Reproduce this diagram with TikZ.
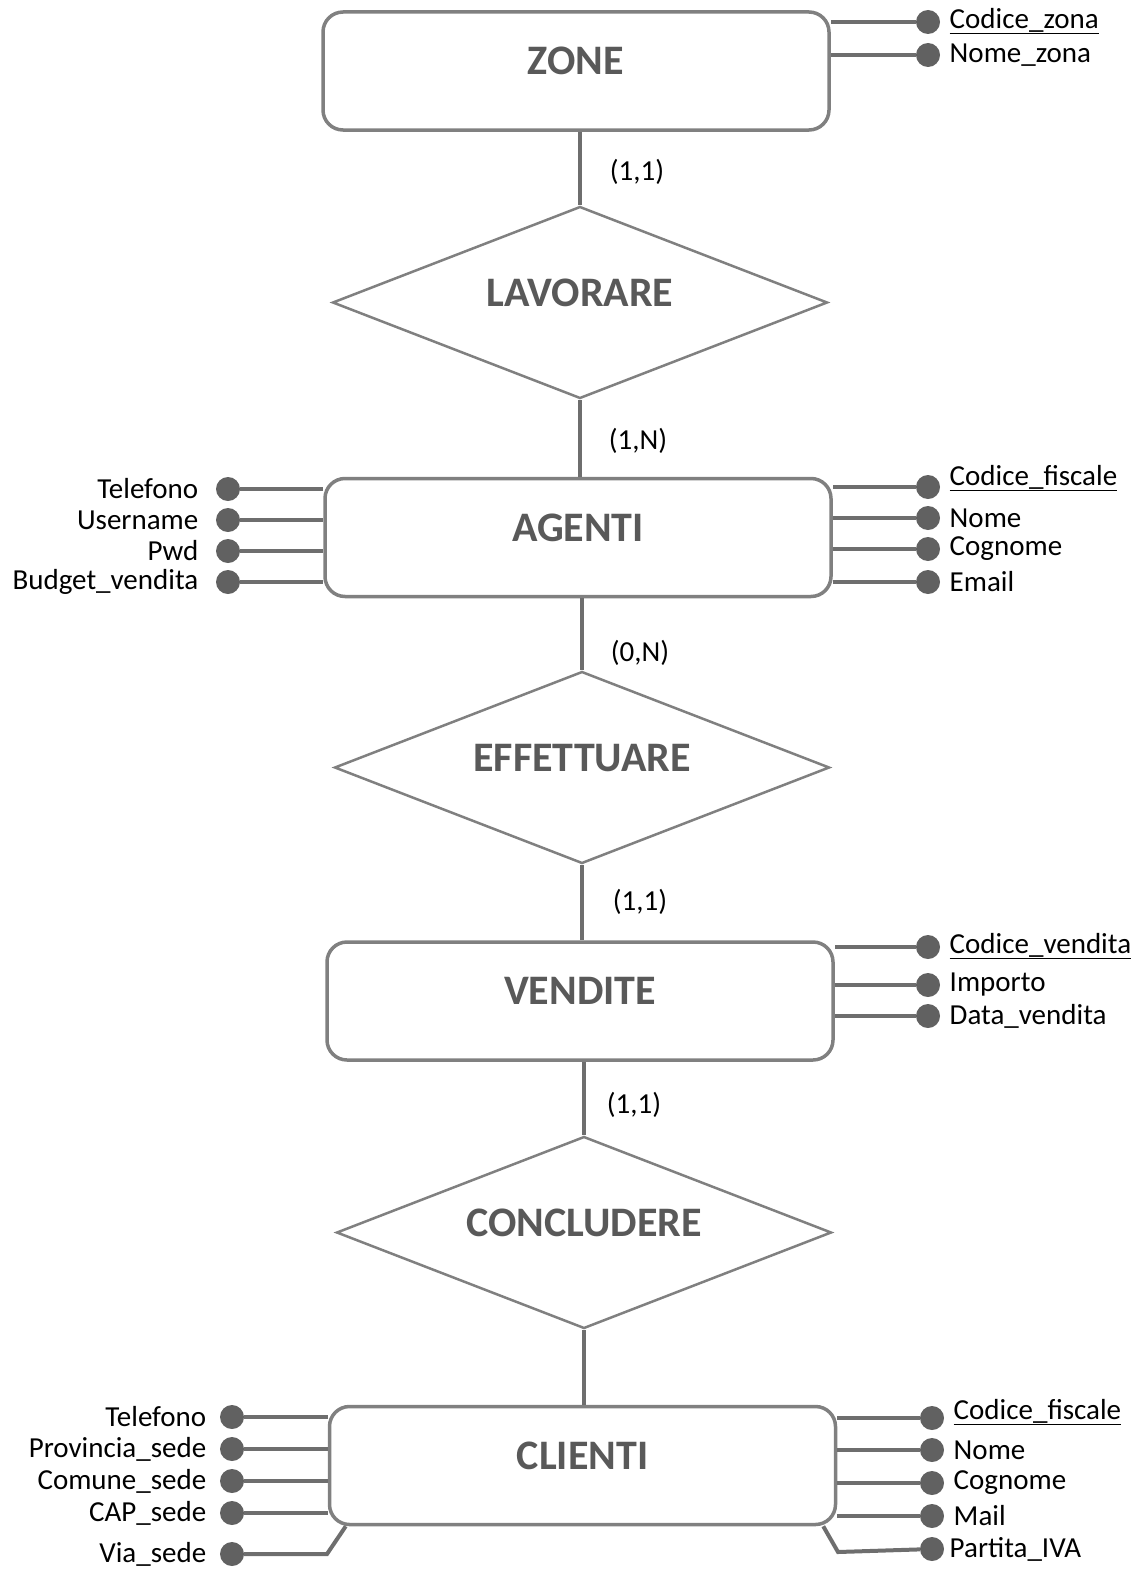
\documentclass[tikz,border=0pt]{standalone}
\usepackage{fontspec}
\setmainfont{Carlito}
\usetikzlibrary{shapes.geometric,calc}
\definecolor{boxgray}{HTML}{808080}
\definecolor{dotgray}{HTML}{616161}
\definecolor{linegray}{HTML}{6E6E6E}
\definecolor{labgray}{HTML}{595959}
\tikzstyle{entity} = [rectangle, rounded corners=20pt, minimum width=506pt, minimum height=118pt, text depth=20pt, draw=boxgray, line width=3.5pt, fill=white, text=labgray, font=\fontsize{42}{50}\selectfont\bfseries]
\tikzstyle{relation} = [diamond, aspect=2.6, minimum width=495pt, minimum height=192pt, inner sep=0pt, text depth=20pt, draw=boxgray, line width=2.5pt, fill=white, text=labgray, font=\fontsize{42}{50}\selectfont\bfseries]
\tikzstyle{attr} = [circle, minimum size=24pt, inner sep=0pt, fill=dotgray]
\tikzstyle{card} = [font=\fontsize{29}{35}\selectfont]
\tikzstyle{link} = [draw=linegray, line width=4pt]

\begin{document}
\begin{tikzpicture}[x=1pt, y=-1pt, every label/.style={font=\fontsize{29}{35}\selectfont}, label distance=6pt]
\useasboundingbox (0,0) rectangle (1141,1571);

% entities and relations
\node (zone) [entity] at (576,71) {ZONE};
\node (lavorare) [relation] at (580,302.5) {LAVORARE};
\node (agenti) [entity] at (578,537.5) {AGENTI};
\node (effettuare) [relation] at (582,767.5) {EFFETTUARE};
\node (vendite) [entity] at (580,1001) {VENDITE};
\node (concludere) [relation] at (584,1232.5) {CONCLUDERE};
\node (clienti) [entity] at (582.5,1465.5) {CLIENTI};

\draw [link] (lavorare.north) -- (lavorare.north |- zone.south);
\draw [link] (lavorare.south) -- (lavorare.south |- agenti.north);
\draw [link] (effettuare.north) -- (effettuare.north |- agenti.south);
\draw [link] (effettuare.south) -- (effettuare.south |- vendite.north);
\draw [link] (concludere.north) -- (concludere.north |- vendite.south);
\draw [link] (concludere.south) -- (concludere.south |- clienti.north);

% cardinalities
\node (c1) [card] at (637,172) {(1,1)};
\node (c2) [card] at (638,441) {(1,N)};
\node (c3) [card] at (640,653) {(0,N)};
\node (c4) [card] at (640,902) {(1,1)};
\node (c5) [card] at (634,1105) {(1,1)};

% ZONE attributes
\node (za1) [attr, label={[yshift=1pt]right:\underline{Codice\_zona}}] at (928,22) {};
\node (za2) [attr, label=right:Nome\_zona] at (928,55) {};
\draw [link] (za1) -- (za1 -| zone.east);
\draw [link] (za2) -- (za2 -| zone.east);

% AGENTI attributes
\node (ar1) [attr, label={[yshift=9pt]right:\underline{Codice\_fiscale}}] at (928,487) {};
\node (ar2) [attr, label=right:Nome] at (928,518) {};
\node (ar3) [attr, label=right:Cognome] at (928,549) {};
\node (ar4) [attr, label=right:Email] at (928,582) {};
\node (al1) [attr, label={[label distance=14pt]left:Telefono}] at (228,489) {};
\node (al2) [attr, label={[label distance=14pt]left:Username}] at (228,520) {};
\node (al3) [attr, label={[label distance=14pt]left:Pwd}] at (228,551) {};
\node (al4) [attr, label={[label distance=14pt]left:Budget\_vendita}] at (228,582) {};
\draw [link] (ar1) -- (ar1 -| agenti.east);
\draw [link] (ar2) -- (ar2 -| agenti.east);
\draw [link] (ar3) -- (ar3 -| agenti.east);
\draw [link] (ar4) -- (ar4 -| agenti.east);
\draw [link] (al1) -- (al1 -| agenti.west);
\draw [link] (al2) -- (al2 -| agenti.west);
\draw [link] (al3) -- (al3 -| agenti.west);
\draw [link] (al4) -- (al4 -| agenti.west);

% VENDITE attributes
\node (vr1) [attr, label={[yshift=1pt]right:\underline{Codice\_vendita}}] at (928,947) {};
\node (vr2) [attr, label=right:Importo] at (928,985) {};
\node (vr3) [attr, label=right:Data\_vendita] at (928,1016) {};
\draw [link] (vr1) -- (vr1 -| vendite.east);
\draw [link] (vr2) -- (vr2 -| vendite.east);
\draw [link] (vr3) -- (vr3 -| vendite.east);

% CLIENTI attributes
\node (cr1) [attr, label={[yshift=6pt]right:\underline{Codice\_fiscale}}] at (932,1418) {};
\node (cr2) [attr, label=right:Nome] at (932,1450) {};
\node (cr3) [attr, label=right:Cognome] at (932,1483) {};
\node (cr4) [attr, label=right:Mail] at (932,1516) {};
\node (cr5) [attr, label={[xshift=-4pt]right:Partita\_IVA}] at (932,1549) {};
\node (cl1) [attr, label={[label distance=10pt]left:Telefono}] at (232,1417) {};
\node (cl2) [attr, label={[label distance=10pt]left:Provincia\_sede}] at (232,1449) {};
\node (cl3) [attr, label={[label distance=10pt]left:Comune\_sede}] at (232,1481) {};
\node (cl4) [attr, label={[label distance=10pt]left:CAP\_sede}] at (232,1513) {};
\node (cl5) [attr, label={[label distance=10pt]left:Via\_sede}] at (232,1554) {};
\coordinate (viabend) at (327,1554);
\coordinate (ivabend) at (838,1552);
\draw [link] (cr1) -- (cr1 -| clienti.east);
\draw [link] (cr2) -- (cr2 -| clienti.east);
\draw [link] (cr3) -- (cr3 -| clienti.east);
\draw [link] (cr4) -- (cr4 -| clienti.east);
\draw [link] (cr5) -- (ivabend) -- ($(clienti.south east)+(-14,0)$);
\draw [link] (cl1) -- (cl1 -| clienti.west);
\draw [link] (cl2) -- (cl2 -| clienti.west);
\draw [link] (cl3) -- (cl3 -| clienti.west);
\draw [link] (cl4) -- (cl4 -| clienti.west);
\draw [link] (cl5) -- (viabend) -- ($(clienti.south west)+(18,0)$);

\end{tikzpicture}
\end{document}
